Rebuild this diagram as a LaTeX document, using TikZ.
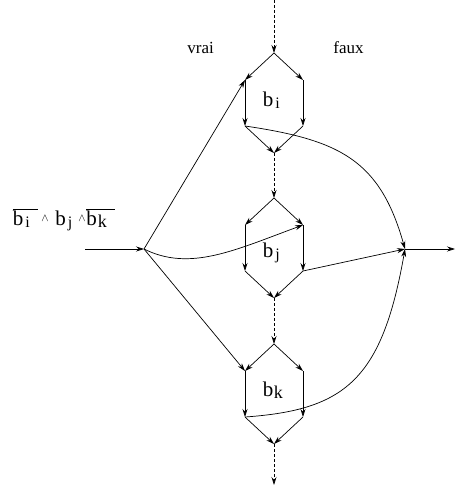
\documentclass[tikz,border=0pt]{standalone}
\usepackage{fontspec}
\setmainfont{Liberation Serif}
\usetikzlibrary{arrows.meta}
\newcommand\subtx[1]{\raisebox{-0.3ex}{\fontsize{16}{16}\selectfont #1}}
\newcommand\subtk[1]{\raisebox{-0.3ex}{\fontsize{18}{18}\selectfont #1}}
\newcommand\wedgetx{\raisebox{0.35ex}{\fontsize{11}{11}\selectfont$\wedge$}}
\begin{document}
\begin{tikzpicture}[x=1pt,y=-1pt,
  line width=0.7pt,
  arr/.style={-{Stealth[length=8pt,width=5pt]}},
  dsh/.style={arr,dash pattern=on 3pt off 2pt},
  lab/.style={inner sep=0pt,anchor=base west,font=\fontsize{21}{21}\selectfont},
  side/.style={inner sep=0pt,anchor=base west,font=\fontsize{17}{17}\selectfont}]
\useasboundingbox (0,0) rectangle (455,487);
% hexagon coordinates
\foreach \n/\y in {i/53,j/198,k/344}{
  \coordinate (\n-top) at (274,\y);
  \coordinate (\n-ul) at (245,\y+27);
  \coordinate (\n-ur) at (303,\y+27);
  \coordinate (\n-ll) at (245,\y+73);
  \coordinate (\n-lr) at (303,\y+73);
  \coordinate (\n-bot) at (274,\y+100);
  \draw[arr] (\n-top) -- (\n-ul);
  \draw[arr] (\n-top) -- (\n-ur);
  \draw[arr] (\n-ul) -- (\n-ll);
  \draw[arr] (\n-ur) -- (\n-lr);
  \draw[arr] (\n-ll) -- (\n-bot);
  \draw[arr] (\n-lr) -- (\n-bot);
}
\coordinate (topin) at (274,0);
\coordinate (botout) at (274,485);
\coordinate (in) at (85,249);
\coordinate (fork) at (144,249);
\coordinate (merge) at (405,249);
\coordinate (out) at (455,249);
\draw[dsh] (topin) -- (i-top);
\draw[dsh] (i-bot) -- (j-top);
\draw[dsh] (j-bot) -- (k-top);
\draw[dsh] (k-bot) -- (botout);
\draw[arr] (in) -- (fork);
\draw[arr] (fork) -- (i-ul);
\draw[arr] (fork) -- (k-ul);
\draw[arr] (fork) .. controls (190,272) and (235,250) .. (j-ur);
\draw[arr] (i-ll) .. controls (340,140) and (380,160) .. (merge);
\draw[arr] (j-lr) -- (merge);
\draw[arr] (k-ll) .. controls (345,410) and (382,380) .. (merge);
\draw[arr] (merge) -- (out);
% labels
\node[lab] (bi) at (262.5,106) {b\kern2pt\subtx{i}};
\node[lab] (bj) at (262.5,257) {b\kern2pt\subtx{j}};
\node[lab] (bk) at (262.5,396) {b\kern0.5pt\subtk{k}};
\node[side] (vrai) at (187,53) {vrai};
\node[side] (faux) at (333,53) {faux};
\node[lab] (cond) at (12.5,225) {$\overline{\hbox{b\kern2pt\subtx{i}\kern8.6pt}}$\kern3pt\wedgetx\kern6.7pt b\kern2pt\subtx{j}\kern6pt\wedgetx\kern0.7pt$\overline{\hbox{b\kern1pt\subtk{k}\kern8pt}}$};
\end{tikzpicture}
\end{document}
